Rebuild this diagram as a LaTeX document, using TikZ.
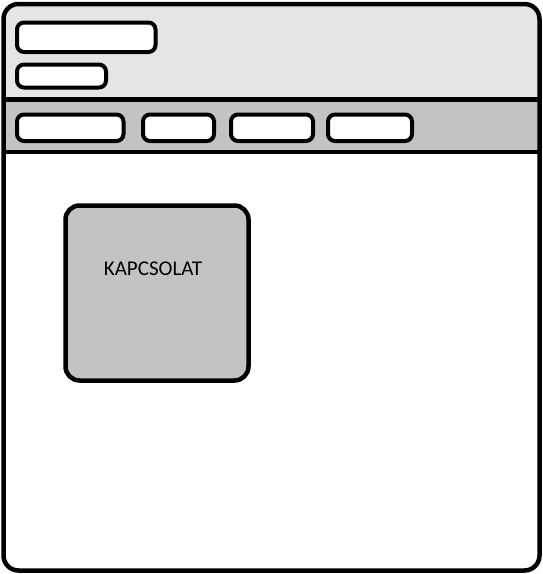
\documentclass[tikz,border=0pt]{standalone}
\usepackage{fontspec}
\setmainfont{Carlito}
\definecolor{topgray}{RGB}{229,229,229}
\definecolor{bandgray}{RGB}{195,195,195}
\begin{document}
\begin{tikzpicture}[x=1pt,y=-1pt,
  frame/.style={draw=black,line width=4.5pt},
  btn/.style={draw=black,line width=4pt,fill=white,rounded corners=7pt},
  card/.style={draw=black,line width=4.5pt,fill=bandgray,rounded corners=14pt,outer sep=0pt}]
\useasboundingbox (0,0) rectangle (542,574);
% top area
\fill[topgray,rounded corners=15pt] (3.5,4) -- (539.5,4) -- (539.5,99.5) -- (3.5,99.5) -- cycle;
\fill[topgray] (3.5,40) rectangle (539.5,99.5);
% band
\fill[bandgray] (3.5,99.5) rectangle (539.5,152);
% separators
\draw[frame] (3.5,99.5) -- (539.5,99.5);
\draw[frame] (3.5,152) -- (539.5,152);
% outer frame
\draw[frame,rounded corners=15pt] (3.5,4) rectangle (539.5,570.5);
% top boxes
\draw[btn] (17,22.5) rectangle (155.5,52);
\draw[btn] (17,64.5) rectangle (106,87.5);
% band buttons
\draw[btn] (17,114.5) rectangle (123.5,141);
\draw[btn] (143,114.5) rectangle (214,141);
\draw[btn] (231,114.5) rectangle (313,141);
\draw[btn] (328,114.5) rectangle (412,141);
% card
\node[card,minimum width=183pt,minimum height=175pt,anchor=north west,inner sep=0pt] (card) at (65.5,205.5) {};
\node[inner sep=0pt,anchor=center] (lbl) at (153,268.5) {\fontsize{21pt}{25pt}\selectfont KAPCSOLAT};
\end{tikzpicture}
\end{document}
